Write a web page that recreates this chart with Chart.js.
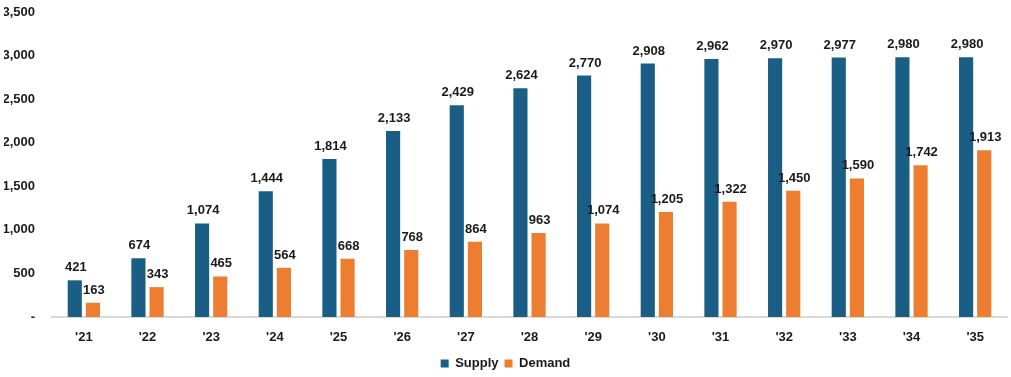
<!DOCTYPE html>
<html>
<head>
<meta charset="utf-8">
<script src="https://cdn.jsdelivr.net/npm/chart.js@4.4.0/dist/chart.umd.min.js"></script>
<style>
  html, body { margin: 0; padding: 0; background: #fff; }
  #wrap { width: 1011px; height: 377px; }
</style>
</head>
<body>
<div id="wrap"><canvas id="myChart"></canvas></div>
<script>
const years = ["'21", "'22", "'23", "'24", "'25", "'26", "'27", "'28", "'29", "'30", "'31", "'32", "'33", "'34", "'35"];
const supply = [421, 674, 1074, 1444, 1814, 2133, 2429, 2624, 2770, 2908, 2962, 2970, 2977, 2980, 2980];
const demand = [163, 343, 465, 564, 668, 768, 864, 963, 1074, 1205, 1322, 1450, 1590, 1742, 1913];

const FONT = "'Liberation Sans', Arial, sans-serif";
const fmt = (v) => v.toLocaleString('en-US');

// draws the value above each bar
const barLabels = {
  id: 'barLabels',
  afterDatasetsDraw(chart) {
    const { ctx } = chart;
    ctx.save();
    ctx.font = 'bold 13px ' + FONT;
    ctx.fillStyle = '#1a1a1a';
    ctx.textAlign = 'center';
    ctx.textBaseline = 'alphabetic';
    chart.data.datasets.forEach((ds, i) => {
      chart.getDatasetMeta(i).data.forEach((bar, j) => {
        ctx.fillText(fmt(ds.data[j]), bar.x + 1, bar.y - 9);
      });
    });
    ctx.restore();
  },
};

new Chart(document.getElementById('myChart').getContext('2d'), {
  type: 'bar',
  data: {
    labels: years,
    datasets: [
      { label: 'Supply', data: supply, backgroundColor: '#1b5e85', categoryPercentage: 0.57, barPercentage: 0.78 },
      { label: 'Demand', data: demand, backgroundColor: '#ed7d31', categoryPercentage: 0.57, barPercentage: 0.78 },
    ],
  },
  options: {
    animation: false,
    responsive: true,
    maintainAspectRatio: false,
    layout: { padding: { top: 0, right: 4, left: 4, bottom: -3 } },
    scales: {
      x: {
        grid: { display: false, drawTicks: false },
        border: { display: true, color: '#d9d9d9', width: 2 },
        ticks: { color: '#1a1a1a', font: { family: FONT, size: 13, weight: 'bold' }, padding: 13 },
        afterFit: (axis) => { axis.height = 34; },
      },
      y: {
        min: 0,
        max: 3500,
        grid: { display: false, drawTicks: false },
        border: { display: false },
        ticks: {
          stepSize: 500,
          color: '#1a1a1a',
          padding: 17,
          font: { family: FONT, size: 13, weight: 'bold' },
          callback: (v) => (v === 0 ? '-' : fmt(v)),
        },
        afterFit: (axis) => {
          axis.width = 48;
          axis.paddingTop = 12;
          axis.paddingBottom = 8;
        },
      },
    },
    plugins: {
      legend: {
        position: 'bottom',
        labels: {
          boxWidth: 8,
          boxHeight: 8,
          color: '#1a1a1a',
          padding: 6,
          font: { family: FONT, size: 13, weight: 'bold' },
        },
      },
      tooltip: { enabled: false },
    },
  },
  plugins: [barLabels],
});
</script>
</body>
</html>
